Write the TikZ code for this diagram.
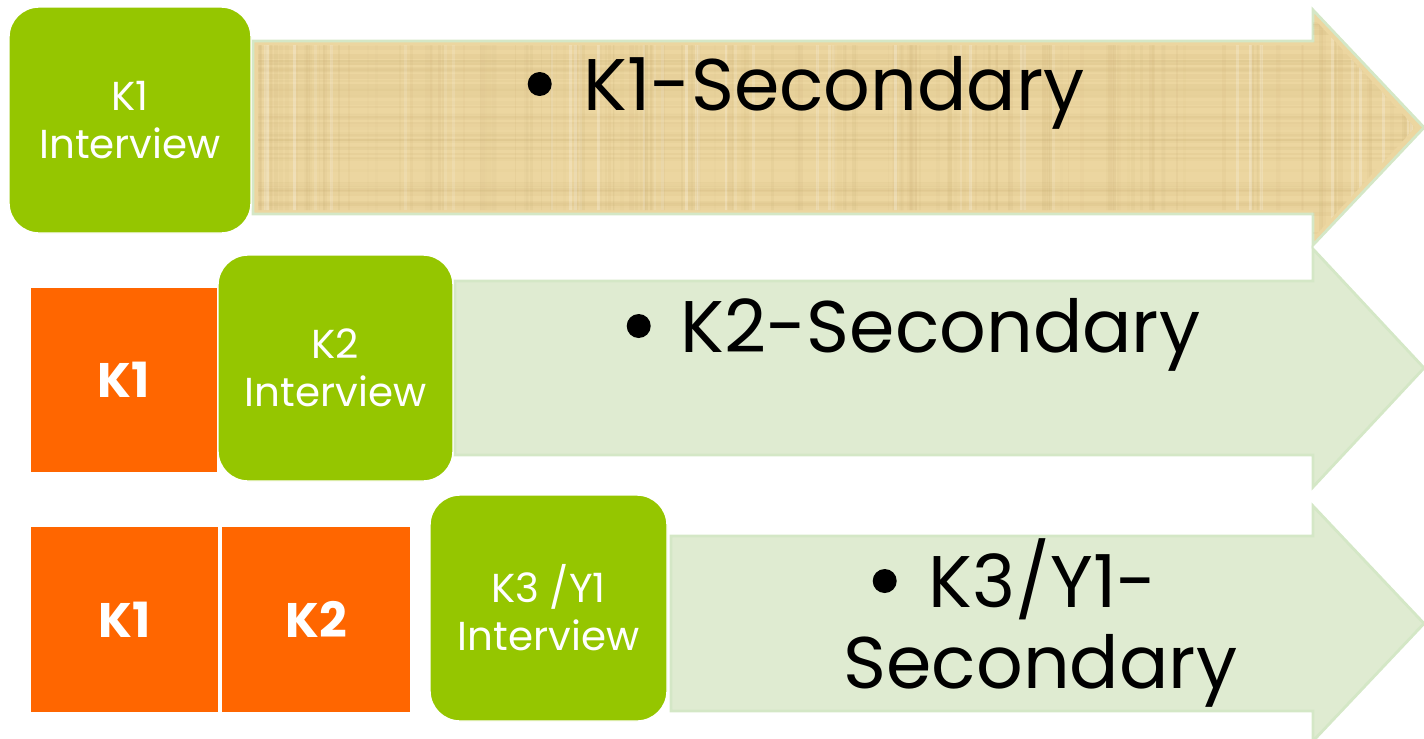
\documentclass[tikz,border=0pt]{standalone}
\usepackage{fontspec}
\setmainfont{Poppins}
\usetikzlibrary{positioning}

\definecolor{leafgreen}{RGB}{149,198,0}
\definecolor{yearorange}{RGB}{255,102,0}
\definecolor{palegreen}{RGB}{223,235,209}
\definecolor{arrowedge}{RGB}{212,231,198}
\definecolor{papyrus}{RGB}{236,214,160}
\definecolor{papyrusline}{RGB}{196,168,108}

% big round bullet of the arrow texts
\newcommand{\bulletdot}{\tikz[baseline=0pt]\fill (0,0.26) circle (0.12);}

\begin{document}
\begin{tikzpicture}[
	interview/.style={rounded corners=0.3cm, fill=leafgreen, draw=white, thin, text=white, align=center, inner sep=0pt, minimum height=2.26cm, font=\fontsize{11.5}{13.6}\selectfont},
	yearbox/.style={fill=yearorange, draw=white, line width=0.8pt, text=white, inner sep=0pt, minimum height=1.87cm, font=\fontsize{13.8}{15}\selectfont\bfseries},
	arrowline/.style={draw=arrowedge, line width=0.8pt},
	bigtext/.style={anchor=base west, inner sep=0pt, font=\fontsize{20.8}{23}\selectfont}
	]
	% Parameters
	\def\headX{13.13}  % start of the arrow heads
	\def\tipX{14.24}   % tip of the arrow heads
	
	\useasboundingbox (0,0) rectangle (14.24,7.38);
	
	% Top arrow with papyrus texture
	\draw[arrowline, fill=papyrus] (2.53,6.97) -- (\headX,6.97) -- (\headX,7.28) -- (\tipX,6.105) -- (\headX,4.93) -- (\headX,5.24) -- (2.53,5.24) -- cycle;
	\begin{scope}
		\clip (2.58,6.93) -- (\headX,6.93) -- (\headX,7.2) -- (14.15,6.105) -- (\headX,5.0) -- (\headX,5.28) -- (2.58,5.28) -- cycle;
		\pgfmathsetseed{11}
		\foreach \i in {1,...,160}{
			\pgfmathsetmacro\xx{2.53+11.7*rnd}
			\pgfmathsetmacro\op{0.03+0.1*rnd}
			\pgfmathsetmacro\lw{0.3+1.2*rnd}
			\draw[papyrusline, opacity=\op, line width=\lw pt] (\xx,4.9) -- (\xx,7.3);
		}
		\foreach \i in {1,...,70}{
			\pgfmathsetmacro\yy{4.9+2.4*rnd}
			\pgfmathsetmacro\op{0.03+0.1*rnd}
			\pgfmathsetmacro\lw{0.3+1.2*rnd}
			\draw[papyrusline, opacity=\op, line width=\lw pt] (2.5,\yy) -- (14.3,\yy);
		}
		\foreach \i in {1,...,40}{
			\pgfmathsetmacro\xx{2.53+11.7*rnd}
			\pgfmathsetmacro\op{0.1+0.15*rnd}
			\draw[white, opacity=\op, line width=0.8pt] (\xx,4.9) -- (\xx,7.3);
		}
	\end{scope}
	
	% Middle and bottom arrows
	\draw[arrowline, fill=palegreen] (4.55,4.57) -- (\headX,4.57) -- (\headX,4.89) -- (\tipX,3.70) -- (\headX,2.51) -- (\headX,2.83) -- (4.55,2.83) -- cycle;
	\draw[arrowline, fill=palegreen] (6.71,2.02) -- (\headX,2.02) -- (\headX,2.32) -- (\tipX,1.145) -- (\headX,-0.03) -- (\headX,0.27) -- (6.71,0.27) -- cycle;
	
	% Orange year boxes
	\node[yearbox, minimum width=1.89cm] (midk1) at (1.24,3.58) {K1};
	\node[yearbox, minimum width=1.90cm] (lowk1) at (1.245,1.185) {K1};
	\node[yearbox, minimum width=1.90cm] (lowk2) at (3.16,1.185) {K2};
	
	% Green interview boxes
	\node[interview, minimum width=2.42cm] (int1) at (1.30,6.18) {K1\\Interview};
	\node[interview, minimum width=2.35cm] (int2) at (3.355,3.70) {K2\\Interview};
	\node[interview, minimum width=2.37cm] (int3) at (5.485,1.30) {K3 /Y1\\Interview};
	
	% Arrow texts
	\node[bigtext] (sec1) at (5.27,6.28) {\bulletdot\hspace{0.32cm}K1-Secondary};
	\node[bigtext] (sec2) at (6.26,3.86) {\bulletdot\hspace{0.3cm}K2-Secondary};
	\node[bigtext] (sec3) at (8.72,1.31) {\bulletdot\hspace{0.32cm}K3/Y1-};
	\node[bigtext] (sec3b) at (8.43,0.50) {Secondary};
	
\end{tikzpicture}
\end{document}
